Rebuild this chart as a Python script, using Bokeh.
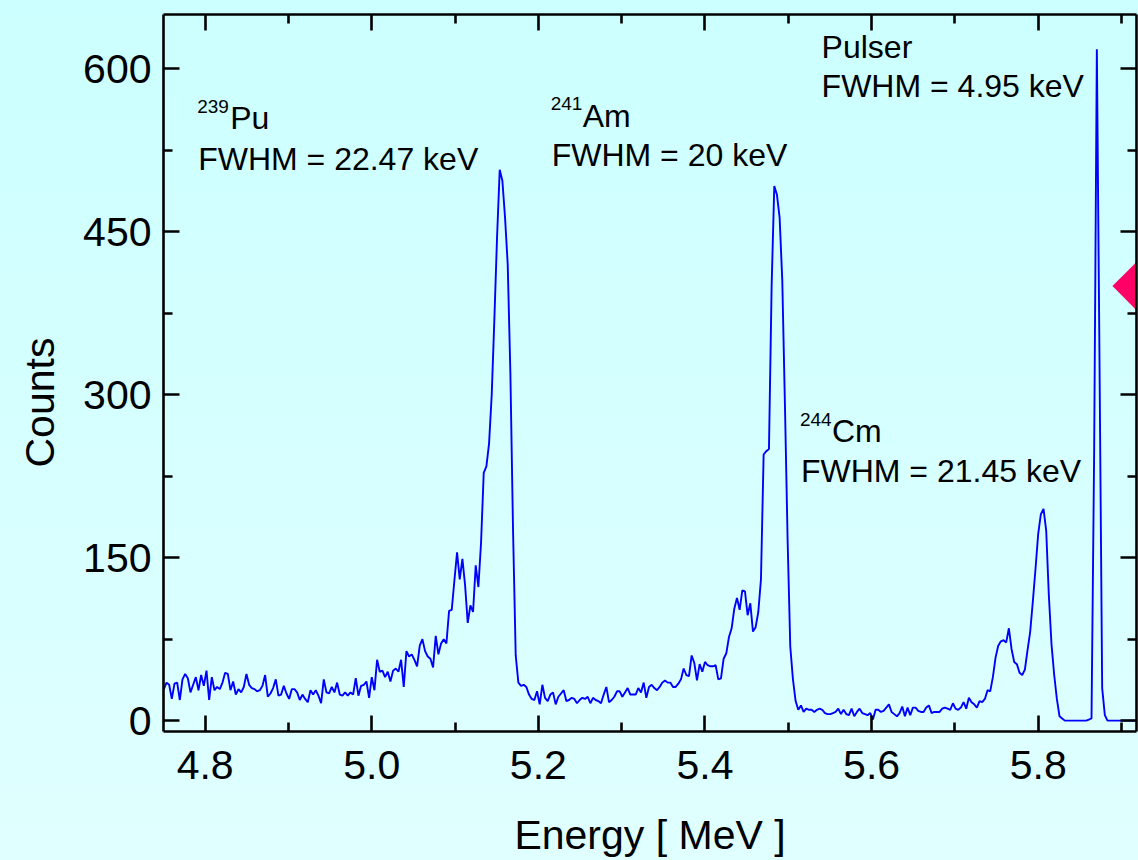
import math
from bokeh.plotting import figure
from bokeh.models import (Label, LinearAxis, FixedTicker, Range1d, ColumnDataSource,
                          PrintfTickFormatter, CustomJSTickFormatter, Title,
                          GlobalInlineStyleSheet)
from bokeh.embed import file_html
from bokeh.resources import INLINE

# ---------------- data ----------------
# channel calibration of the spectrum (MeV)
E_START = 4.7504
E_STEP = 0.0032

# counts per channel
counts_bg_pu = [29, 35, 33, 20, 34, 35, 19, 38, 43, 39,
                26, 33, 40, 28, 42, 32, 46, 19, 40, 28, 31,
                29, 35, 44, 43, 28, 36, 24, 29, 26, 31,
                43, 33, 30, 29, 27, 28, 32, 42, 22, 25,
                30, 38, 23, 24, 32, 25, 20, 29, 29, 26,
                19, 24, 20, 17, 28, 24, 28, 23, 16, 38,
                26, 25, 31, 26, 35, 24, 23, 26, 23, 26, 24,
                39, 23, 32, 33, 36, 21, 40, 28, 56, 45,
                46, 40, 45, 36, 46, 48, 45, 56, 31, 64,
                59, 61, 56, 50, 69, 75, 64, 59, 57, 49,
                78, 61, 71, 75, 71, 101, 102, 129, 155, 130,
                149, 125, 90, 106, 100, 143, 123, 164]
counts_pu_peak = [228, 234, 255, 300, 370, 445, 507, 497, 463, 420, 320, 175, 60]
counts_bg_am = [35, 32, 33, 31, 24, 20, 19, 27, 15, 33,
                21, 18, 24, 26, 15, 22, 25, 28, 18, 19,
                21, 20, 16, 19, 21, 20, 22, 16, 21, 19,
                18, 16, 24, 31, 17, 19, 22, 27, 27, 22,
                26, 30, 24, 24, 24, 30, 26, 35, 21, 31,
                33, 30, 28, 31, 35, 37, 35, 35, 31, 31,
                34, 38, 48, 42, 41, 60, 53, 37, 52, 45,
                54, 51, 50, 50, 51, 38, 39, 57, 62, 77,
                85, 103, 113, 102, 120, 119, 97, 108, 82, 86, 100, 130]
counts_am_peak = [245, 248, 250, 400, 492, 484, 463, 405, 290, 166, 68, 38, 18]
counts_bg_cm = [10, 14, 8, 11, 10, 10, 8, 10, 11, 10,
                7, 6, 6, 7, 8, 11, 6, 10, 6, 5,
                11, 4, 8, 11, 7, 6, 5, 7, 1, 10,
                10, 8, 9, 12, 15, 8, 6, 4, 7, 13,
                4, 12, 5, 12, 12, 9, 8, 8, 12, 14,
                7, 8, 8, 8, 11, 12, 11, 10, 16, 11,
                10, 12, 17, 11, 21, 17, 15, 12, 18, 17,
                20, 28, 27, 40, 58, 69, 73, 74, 72, 85,
                66, 54, 52, 44, 42, 47, 65, 82, 110, 140,
                172, 190, 195]
counts_cm_tail = [175, 115, 70, 42, 20, 4, 2,
                  0, 0, 0, 0, 0, 0, 0, 0, 0, 1, 2]
counts_pulser = [250, 618, 330, 30, 5,
                 0, 0, 0, 0, 0, 0, 0, 0, 0, 0, 0, 0]

counts = (counts_bg_pu + counts_pu_peak + counts_bg_am + counts_am_peak
          + counts_bg_cm + counts_cm_tail + counts_pulser)
energy = [E_START + E_STEP * i for i in range(len(counts))]

x_ticks = [4.8, 5.0, 5.2, 5.4, 5.6, 5.8]
x_minor = [4.9, 5.1, 5.3, 5.5, 5.7, 5.9]
y_ticks = [0, 150, 300, 450, 600]
y_minor = [75, 225, 375, 525]

marker_x = [5.918]
marker_y = [400]

FONT = "Liberation Sans"

# ---------------- figure ----------------
p = figure(width=1138, height=860, output_backend="svg", toolbar_location=None,
           x_range=Range1d(4.75, 5.918), y_range=Range1d(-10, 650),
           min_border_left=163, min_border_right=2, min_border_top=14,
           min_border_bottom=128)
p.border_fill_color = None
p.background_fill_color = None
p.outline_line_color = None
p.xgrid.grid_line_color = None
p.ygrid.grid_line_color = None
p.stylesheets.append(GlobalInlineStyleSheet(
    css="html, body { background: linear-gradient(to bottom, #ccffff 0%, #e0ffff 100%) fixed; }"))

src = ColumnDataSource(dict(energy=energy, counts=counts))
p.line("energy", "counts", source=src, line_color="#0000ff", line_width=1.9)
p.scatter(marker_x, marker_y, marker="square", size=34, angle=math.pi / 4,
          fill_color="#ff0066", line_color=None)

blank = CustomJSTickFormatter(code="return ''")

def style_axis(ax, labels=True):
    ax.axis_line_width = 2.6
    ax.axis_line_color = "black"
    ax.major_tick_line_width = 2.6
    ax.minor_tick_line_width = 2.6
    ax.major_tick_line_color = "black"
    ax.minor_tick_line_color = "black"
    ax.major_tick_in = 16
    ax.major_tick_out = 0
    ax.minor_tick_in = 9
    ax.minor_tick_out = 0
    ax.major_label_text_font = FONT
    ax.major_label_text_color = "black"
    ax.major_label_text_font_size = "41px"
    if not labels:
        ax.formatter = blank
        ax.major_label_standoff = 0

xt = FixedTicker(ticks=x_ticks, minor_ticks=x_minor)
yt = FixedTicker(ticks=y_ticks, minor_ticks=y_minor)

xa = p.xaxis[0]
xa.ticker = xt
xa.formatter = PrintfTickFormatter(format="%.1f")
style_axis(xa)
xa.major_label_standoff = 19
xa.axis_label = "Energy [ MeV ]"
xa.axis_label_text_font = FONT
xa.axis_label_text_font_size = "41px"
xa.axis_label_text_font_style = "normal"
xa.axis_label_text_color = "black"
xa.axis_label_standoff = 30

ya = p.yaxis[0]
ya.ticker = yt
ya.formatter = PrintfTickFormatter(format="%d")
style_axis(ya)
ya.major_label_standoff = 12

top = LinearAxis(ticker=xt)
style_axis(top, labels=False)
p.add_layout(top, "above")
right = LinearAxis(ticker=yt)
style_axis(right, labels=False)
p.add_layout(right, "right")

# y axis title, placed along the left side
p.add_layout(Title(text="Counts", align="left", offset=264, standoff=31,
                   vertical_align="top",
                   text_font=FONT, text_font_size="41px", text_font_style="normal",
                   text_color="black"), "left")

# peak annotations (x in MeV, y in counts)
annotations = [
    (4.7904, 564.9, "239", "19px"),
    (4.8300, 554.3, "Pu", "32px"),
    (4.7916, 516.6, "FWHM = 22.47 keV", "32px"),
    (5.2148, 567.7, "241", "19px"),
    (5.2532, 556.4, "Am", "32px"),
    (5.2160, 520.3, "FWHM = 20 keV", "32px"),
    (5.5400, 620.2, "Pulser", "32px"),
    (5.5400, 584.0, "FWHM = 4.95 keV", "32px"),
    (5.5140, 277.2, "244", "19px"),
    (5.5524, 266.6, "Cm", "32px"),
    (5.5152, 229.8, "FWHM = 21.45 keV", "32px"),
]
for ax_, ay_, t, fs in annotations:
    p.add_layout(Label(x=ax_, y=ay_, text=t, text_font=FONT, text_font_size=fs,
                       text_align="left", text_baseline="alphabetic",
                       text_color="black"))

open("out.html", "w").write(file_html(p, INLINE))
